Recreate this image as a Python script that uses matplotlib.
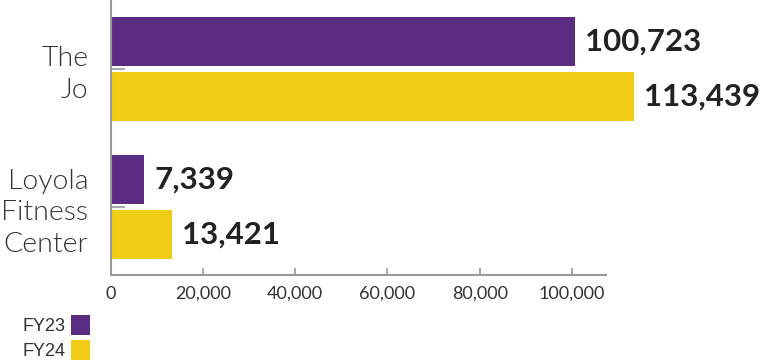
import matplotlib
matplotlib.use("Agg")
import matplotlib.pyplot as plt
from matplotlib.patches import Patch
from matplotlib.ticker import FuncFormatter

categories = ["The\nJo", "Loyola\nFitness\nCenter"]
series_names = ["FY23", "FY24"]
fy23 = [100723, 7339]
fy24 = [113439, 13421]
xticks = [0, 20000, 40000, 60000, 80000, 100000]

PURPLE = "#5B2D82"
YELLOW = "#F0CC14"
GREY = "#9a9a9a"
TXT = "#222222"

plt.rcParams['font.family'] = ['Lato', 'DejaVu Sans']

fig = plt.figure(figsize=(7.61, 3.60), dpi=100)
ax = fig.add_axes([110.5/761, 1 - 275/360, (606 - 110.5)/761, 275/360])

pos = list(range(len(categories)))
h = 0.36
off = 0.2
b1 = ax.barh([p - off for p in pos], fy23, height=h, color=PURPLE, clip_on=False, zorder=2)
b2 = ax.barh([p + off for p in pos], fy24, height=h, color=YELLOW, clip_on=False, zorder=2)

for bars, vals in ((b1, fy23), (b2, fy24)):
    for rect, v in zip(bars, vals):
        ax.annotate(f"{v:,}", (v, rect.get_y() + rect.get_height()/2),
                    xytext=(7, 0), textcoords="offset points",
                    ha="left", va="center", fontsize=22.5, fontweight="bold",
                    color=TXT, annotation_clip=False)

ax.set_xlim(0, 107360)
ax.set_ylim(1.493, -0.5)
ax.set_xticks(xticks)
ax.xaxis.set_major_formatter(FuncFormatter(lambda x, p: f"{int(x):,}"))
ax.set_yticks(pos)
ax.set_yticklabels(categories, fontsize=20.5, fontweight=300, color="#333333",
                   linespacing=1.32)

for s in ("top", "right"):
    ax.spines[s].set_visible(False)
for s in ("left", "bottom"):
    ax.spines[s].set_color(GREY)
    ax.spines[s].set_linewidth(1.5)

ax.tick_params(axis="x", direction="in", length=5, width=1.2, color=GREY,
               labelsize=13, labelcolor="#333333", pad=8)
ax.tick_params(axis="y", direction="in", length=10, width=1.2, color=GREY, pad=16)

handles = [Patch(facecolor=PURPLE), Patch(facecolor=YELLOW)]
fig.legend(handles, series_names, loc="upper left",
           bbox_to_anchor=(23/761, 1 - 315/360), frameon=False,
           markerfirst=False, handlelength=1.05, handleheight=1.35,
           handletextpad=0.3, labelspacing=0.25, borderpad=0, borderaxespad=0,
           labelcolor="#333333",
           prop={"family": ["Liberation Sans", "DejaVu Sans"], "size": 13})

fig.savefig("out.png", dpi=100)
